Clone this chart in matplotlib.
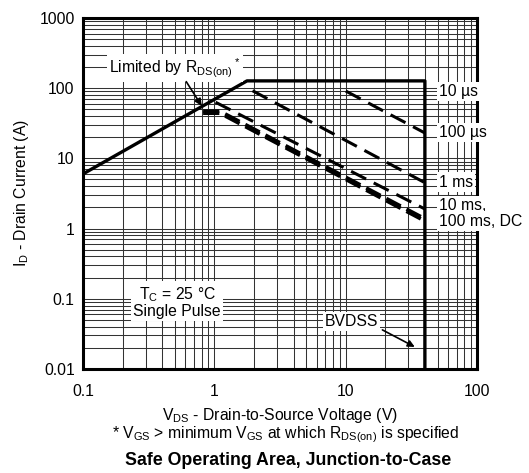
import matplotlib
matplotlib.use('Agg')
import matplotlib.pyplot as plt

plt.rcParams['font.family'] = ['Liberation Sans', 'DejaVu Sans']
plt.rcParams['mathtext.fontset'] = 'custom'
plt.rcParams['mathtext.rm'] = 'Liberation Sans'
plt.rcParams['mathtext.it'] = 'Liberation Sans:italic'
plt.rcParams['mathtext.bf'] = 'Liberation Sans:bold'

# === Daten ===
# Hüllkurve: R_DS(on)-Grenze, Stromgrenze, BVDSS
env_v = [0.1, 1.77, 40, 40]
env_i = [6.0, 127, 127, 0.01]

us100_v = [10, 40]
us100_i = [91, 23]
ms1_v = [1.95, 40]
ms1_i = [92, 4.5]
ms10_v = [1.02, 40]
ms10_i = [63, 1.9]
ms100_v = [0.82, 1.1, 40]
ms100_i = [47, 47, 1.38]
dc_v = [0.82, 1.1, 40]
dc_i = [44, 44, 1.28]

x_ticks = [0.1, 1, 10, 100]
x_ticklabels = ['0.1', '1', '10', '100']
y_ticks = [0.01, 0.1, 1, 10, 100, 1000]
y_ticklabels = ['0.01', '0.1', '1', '10', '100', '1000']

curve_labels = ['10 µs', '100 µs', '1 ms', '10 ms,', '100 ms, DC']
curve_label_i = [91, 23.5, 4.6, 2.1, 1.28]

fs = 11.3

# === Plot ===
fig = plt.figure(figsize=(5.29, 4.73), dpi=100)
ax = fig.add_axes([0.157, 0.220, 0.745, 0.742])
ax.set_xscale('log')
ax.set_yscale('log')
ax.set_xlim(0.1, 100)
ax.set_ylim(0.01, 1000)

ax.grid(True, which='both', color='0.2', linewidth=0.75)
ax.set_axisbelow(True)
for s in ax.spines.values():
    s.set_linewidth(2.2)

ax.set_xticks(x_ticks)
ax.set_xticklabels(x_ticklabels, fontsize=fs)
ax.set_yticks(y_ticks)
ax.set_yticklabels(y_ticklabels, fontsize=fs)
ax.tick_params(which='both', length=0)
ax.tick_params(axis='x', pad=11)
ax.tick_params(axis='y', pad=6)

ax.plot(env_v, env_i, color='black', linewidth=2.4, solid_capstyle='butt')
for v, i in [(us100_v, us100_i), (ms1_v, ms1_i), (ms10_v, ms10_i)]:
    ax.plot(v, i, color='black', linewidth=2.2, dashes=(5.5, 2.8))
ax.plot(ms100_v, ms100_i, color='black', linewidth=2.6, dashes=(4.5, 1.8))
ax.plot(dc_v, dc_i, color='black', linewidth=2.6, dashes=(4.5, 1.8))

box = dict(facecolor='white', edgecolor='none', pad=1.5)
for lab, yi in zip(curve_labels, curve_label_i):
    ax.text(51, yi, lab, fontsize=fs, ha='left', va='center', bbox=box)

ax.text(0.5, 194, r'Limited by R$_\mathrm{DS(on)}$$^*$', fontsize=fs,
        ha='center', va='center', bbox=box)
ax.annotate('', xy=(0.80, 56), xytext=(0.61, 124),
            arrowprops=dict(arrowstyle='-|>', color='black', lw=1.2,
                            shrinkA=0, shrinkB=0))
ax.text(0.52, 0.09, 'T$_\\mathrm{C}$ = 25 °C\nSingle Pulse', fontsize=fs,
        ha='center', va='center', linespacing=1.0, bbox=box)
ax.text(11.1, 0.047, 'BVDSS', fontsize=fs, ha='center', va='center', bbox=box)
ax.annotate('', xy=(33.5, 0.0206), xytext=(19, 0.036),
            arrowprops=dict(arrowstyle='-|>', color='black', lw=1.2,
                            shrinkA=0, shrinkB=0))

ax.set_ylabel(r'I$_\mathrm{D}$ - Drain Current (A)', fontsize=fs, labelpad=6)
ax.set_xlabel(r'V$_\mathrm{DS}$ - Drain-to-Source Voltage (V)', fontsize=fs, labelpad=5)
fig.text(0.54, 0.080, r'* V$_\mathrm{GS}$ > minimum V$_\mathrm{GS}$ at which R$_\mathrm{DS(on)}$ is specified',
         fontsize=11.3, ha='center', va='center')
fig.text(0.545, 0.027, 'Safe Operating Area, Junction-to-Case', fontsize=12.8,
         fontweight='bold', ha='center', va='center')

fig.savefig('out.png', dpi=100)
